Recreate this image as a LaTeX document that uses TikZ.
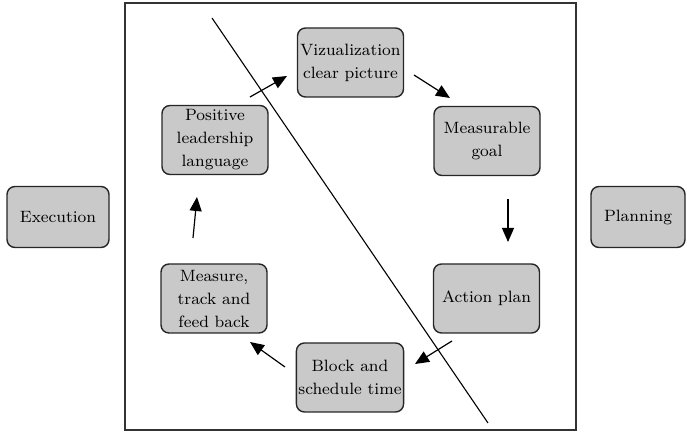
\documentclass[tikz,border=0pt]{standalone}
\usepackage{amsmath,amssymb}
\usepackage{tikz}
\usetikzlibrary{arrows.meta}

\tikzset{
	stepbox/.style={draw=black!85, line width=0.7pt, fill=black!21, rounded corners=4pt,
		align=center, inner sep=1pt, minimum width=53pt, minimum height=34.5pt,
		font=\fontsize{8.2}{11.5}\selectfont},
	sidebox/.style={stepbox, minimum width=51pt, minimum height=30.5pt},
	flow/.style={-{Triangle[length=7pt,width=6pt]}, line width=0.6pt}
}

\begin{document}
\begin{tikzpicture}[x=0.5pt, y=-0.5pt]
			\useasboundingbox (0,0) rectangle (687,432);
			\draw[line width=0.65pt, black!80] (125,3) rectangle (576,430);
			\draw[line width=0.55pt] (212,18) -- (488,423);
			\node[sidebox] (exec) at (58,217) {Execution};
			\node[sidebox, minimum width=47pt] (plan) at (638,217) {Planning};
			\node[stepbox] (viz) at (350.5,62.5) {Vizualization\\clear picture};
			\node[stepbox] (goal) at (487,141) {Measurable\\goal};
			\node[stepbox] (act) at (486.5,298.5) {Action plan};
			\node[stepbox] (block) at (350,377.5) {Block and\\schedule time};
			\node[stepbox] (track) at (214,298.5) {Measure,\\track and\\feed back};
			\node[stepbox] (pos) at (215,140) {Positive\\leadership\\language};
			% arrows between the steps
			\coordinate (p1) at (250,97);  \coordinate (q1) at (287,76);
			\coordinate (p2) at (414,75);  \coordinate (q2) at (450,98);
			\coordinate (p3) at (508,199); \coordinate (q3) at (508,242);
			\coordinate (p4) at (452,341); \coordinate (q4) at (415,364);
			\coordinate (p5) at (285,367); \coordinate (q5) at (250,342);
			\coordinate (p6) at (193,238); \coordinate (q6) at (197,197);
			\foreach \i in {1,...,6}
				\draw[flow] (p\i) -- (q\i);
		\end{tikzpicture}
\end{document}
